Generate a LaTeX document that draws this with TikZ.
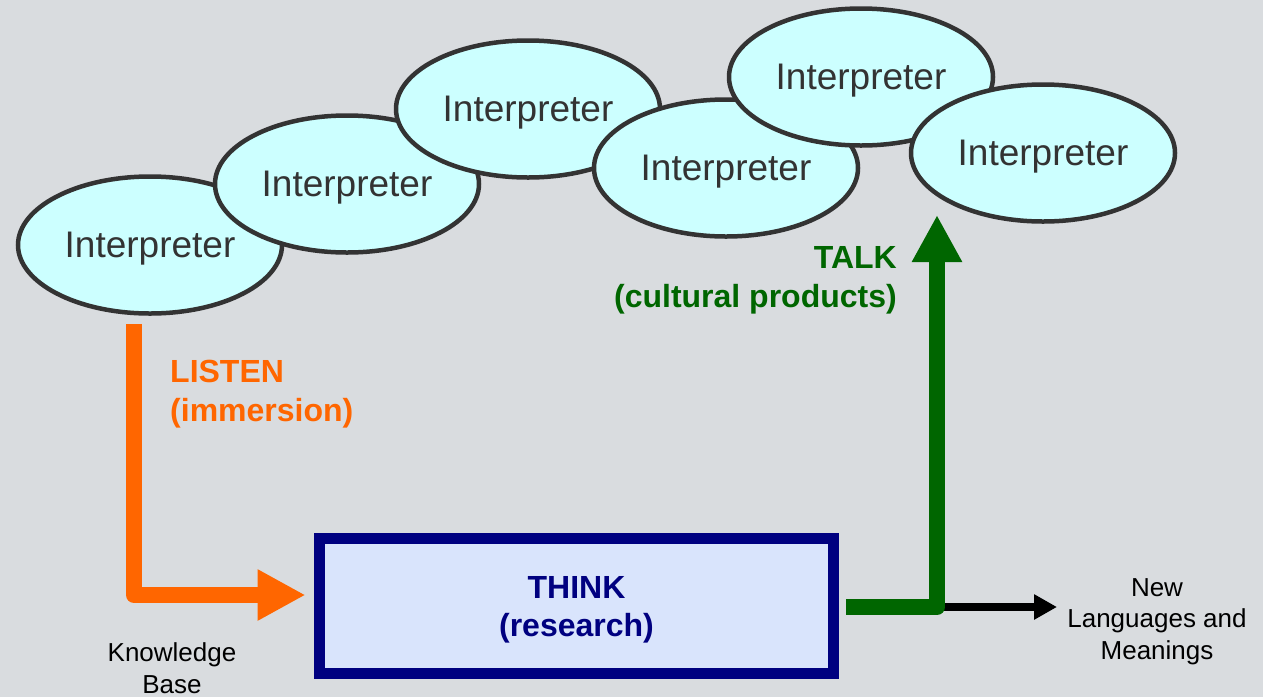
\documentclass[tikz,border=0pt]{standalone}
\usepackage{fontspec}
\setmainfont{Liberation Sans}
\usetikzlibrary{shapes.geometric,arrows.meta}
\definecolor{bgc}{RGB}{217,220,223}
\definecolor{ellfill}{RGB}{204,255,255}
\definecolor{elline}{RGB}{51,51,51}
\definecolor{navyc}{RGB}{0,0,128}
\definecolor{thinkfill}{RGB}{217,228,252}
\definecolor{orangec}{RGB}{255,102,0}
\definecolor{greenc}{RGB}{0,102,0}
\tikzset{
  interp/.style={ellipse, draw=elline, fill=ellfill, line width=4.5pt,
    minimum width=264pt, minimum height=137pt, inner sep=0pt, text depth=0pt,
    text=elline, font=\fontsize{37}{42}\selectfont},
  thinkbox/.style={rectangle, draw=navyc, fill=thinkfill, line width=11pt,
    minimum width=514pt, minimum height=135pt, inner sep=0pt, outer sep=0pt,
    text=navyc, font=\bfseries\fontsize{32}{38}\selectfont},
  biglabel/.style={inner sep=0pt, font=\bfseries\fontsize{32}{38.5}\selectfont},
  smalllabel/.style={inner sep=0pt, align=center, font=\fontsize{26}{31.5}\selectfont},
  listenarrow/.style={draw=orangec, line width=16pt, line join=round,
    -{Triangle[length=48pt,width=48pt]}},
  talkarrow/.style={draw=greenc, line width=16pt, line join=round,
    -{Triangle[length=47pt,width=47pt]}},
  newarrow/.style={draw=black, line width=8pt,
    -{Triangle[length=23pt,width=24pt]}}
}
\begin{document}
\begin{tikzpicture}[x=1pt,y=-1pt]
\fill[bgc] (0,0) rectangle (1263,697);
\useasboundingbox (0,0) rectangle (1263,697);
% interpreters
\node[interp] (e1) at (150,245) {Interpreter};
\node[interp] (e2) at (347,184) {Interpreter};
\node[interp] (e3) at (528,109) {Interpreter};
\node[interp] (e4) at (726,168) {Interpreter};
\node[interp] (e5) at (861,77) {Interpreter};
\node[interp] (e6) at (1043,153) {Interpreter};
% think box
\node[thinkbox] (think) at (576.5,606)
  {\raisebox{-4pt}[\height][\depth]{\begin{tabular}{@{}c@{}}THINK\\(research)\end{tabular}}};
% labels
\node[biglabel, text=orangec, align=left, anchor=base west] (listen) at (170,421) {LISTEN\\(immersion)};
\node[biglabel, text=greenc, align=right, anchor=base east] (talk) at (897,307) {TALK\\(cultural products)};
\node[smalllabel, anchor=base] (kb) at (172,693) {Knowledge\\Base};
\node[smalllabel, anchor=base] (newlang) at (1157,659) {New\\Languages and\\Meanings};
% connectors
\coordinate (corner) at (937,607);
\coordinate (talkend) at (937,215);
\coordinate (newend) at (1057,607);
\draw[newarrow] (corner) -- (newend);
\draw[listenarrow] ([xshift=-16pt,yshift=-8pt]e1.south) |- ([xshift=-14pt,yshift=11pt]think.west);
\draw[talkarrow] ([xshift=12.5pt,yshift=-1pt]think.east) -| (talkend);
\end{tikzpicture}
\end{document}
